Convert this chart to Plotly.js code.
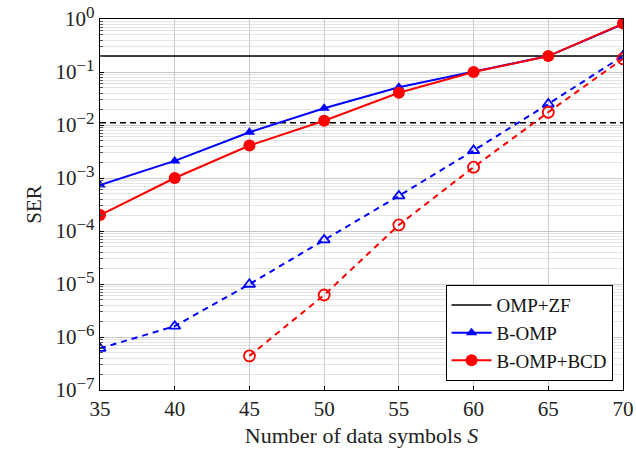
<!DOCTYPE html>
<html><head><meta charset="utf-8">
<script src="https://cdn.plot.ly/plotly-3.0.1.min.js"></script>
<style>body{margin:0;background:#fff}#c{width:636px;height:451px}</style>
</head><body><div id="c"></div>
<script>
const S = [35, 40, 45, 50, 55, 60, 65, 70];
const S_bcd_dash = [45, 50, 55, 60, 65, 70];
const ompzf_x = [35, 70];
const ompzf_solid = [0.2, 0.2];
const ompzf_dash = [0.011, 0.011];
const bomp_solid = [7.4e-4, 2.1e-3, 7.3e-3, 0.0207, 0.0514, 0.101, 0.2, 0.8];
const bcd_solid = [2.0e-4, 1.0e-3, 4.1e-3, 0.012, 0.0407, 0.1, 0.2, 0.82];
const bomp_dash = [6.1e-7, 1.6e-6, 9.9e-6, 6.8e-5, 4.6e-4, 3.3e-3, 0.0249, 0.2];
const bcd_dash = [4.4e-7, 6.2e-6, 1.3e-4, 1.6e-3, 0.0174, 0.178];
const yTickVals = [1e-7, 1e-6, 1e-5, 1e-4, 1e-3, 1e-2, 1e-1, 1];
const yExponents = ['−7', '−6', '−5', '−4', '−3', '−2', '−1', '0'];
const yTickText = yExponents.map(e => '10<sup><span style="font-size:17px">' + e + '</span></sup>');
const xTickVals = [35, 40, 45, 50, 55, 60, 65, 70];

const minorVals = [];
for (let e = -7; e < 0; e++) for (let m = 2; m <= 9; m++) minorVals.push(m * Math.pow(10, e));

const traces = [
  {x: ompzf_x, y: ompzf_solid, mode: 'lines', name: 'OMP+ZF', line: {color: 'black', width: 1.6}},
  {x: ompzf_x, y: ompzf_dash, mode: 'lines', showlegend: false, line: {color: 'black', width: 1.6, dash: '6px,4px'}},
  {x: S, y: bomp_solid, mode: 'lines+markers', name: 'B-OMP', line: {color: '#0000ff', width: 2},
   marker: {symbol: 'triangle-up', size: 10, color: '#0000ff'}},
  {x: S, y: bcd_solid, mode: 'lines+markers', name: 'B-OMP+BCD', line: {color: '#ff0000', width: 2},
   marker: {symbol: 'circle', size: 12, color: '#ff0000'}},
  {x: S, y: bomp_dash, mode: 'lines+markers', showlegend: false, line: {color: '#0000ff', width: 2, dash: '6px,5px'},
   marker: {symbol: 'triangle-up-open', size: 10, color: '#0000ff', line: {width: 1.8}}},
  {x: S_bcd_dash, y: bcd_dash, mode: 'lines+markers', showlegend: false, line: {color: '#ff0000', width: 2, dash: '6px,5px'},
   marker: {symbol: 'circle-open', size: 11, color: '#ff0000', line: {width: 1.8}}}
];

const fam = 'Liberation Serif';
const layout = {
  width: 636, height: 451,
  margin: {l: 100, r: 13, t: 19, b: 61},
  paper_bgcolor: '#fff', plot_bgcolor: '#fff',
  font: {family: fam, color: '#222', size: 21},
  showlegend: true,
  legend: {x: 0.98, y: 0.024, xanchor: 'right', yanchor: 'bottom', bordercolor: '#000', borderwidth: 1,
    bgcolor: '#fff', font: {family: fam, size: 19, color: '#111'}, tracegroupgap: 0, itemwidth: 40},
  xaxis: {
    range: [35, 70], tickmode: 'array', tickvals: xTickVals,
    showgrid: true, gridcolor: '#cccccc', gridwidth: 1,
    showline: true, linecolor: '#000', linewidth: 1.2, mirror: true,
    ticks: 'inside', ticklen: 4, tickcolor: '#000', zeroline: false,
    title: {text: 'Number of data symbols <i>S</i>', font: {family: fam, size: 22}, standoff: 7},
    tickfont: {family: fam, size: 21}
  },
  yaxis: {
    type: 'log', range: [-7, 0], tickmode: 'array', tickvals: yTickVals, ticktext: yTickText,
    showgrid: true, gridcolor: '#c8c8c8', gridwidth: 1,
    showline: true, linecolor: '#000', linewidth: 1.2, mirror: true,
    ticks: 'inside', ticklen: 4, tickcolor: '#000', zeroline: false,
    minor: {tickmode: 'array', tickvals: minorVals, showgrid: true, gridcolor: '#e4e4e4', gridwidth: 1,
      ticks: 'inside', ticklen: 2.5, tickcolor: '#555'},
    title: {text: 'SER', font: {family: fam, size: 21}, standoff: 8},
    tickfont: {family: fam, size: 21}
  }
};
Plotly.newPlot('c', traces, layout, {displayModeBar: false, staticPlot: true});
</script>
</body></html>
